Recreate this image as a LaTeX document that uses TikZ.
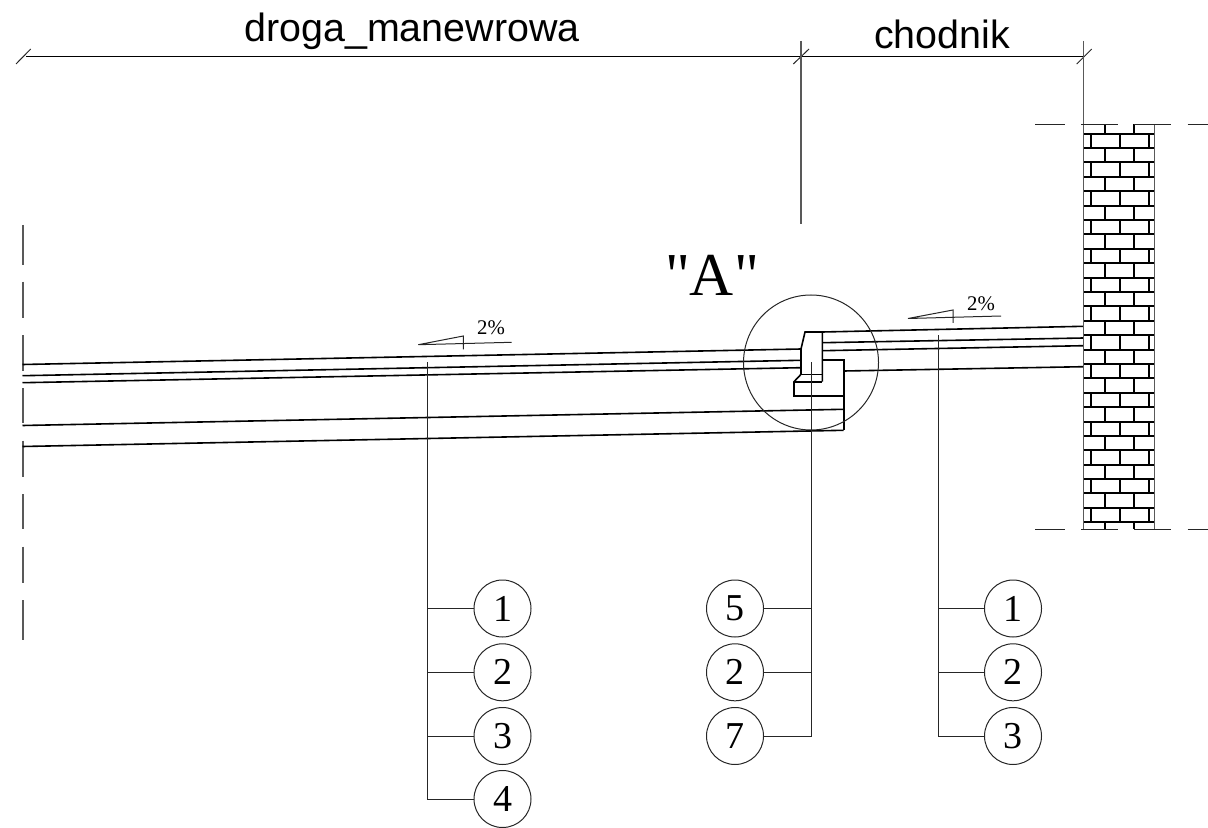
\documentclass[tikz,border=0pt]{standalone}
\usepackage{fontspec}
\setmainfont{Liberation Serif}
\newfontfamily\arialf{Liberation Sans}
\newfontfamily\rawserif{Liberation Serif}
\tikzset{
  thinln/.style={line width=0.5pt,black!85},
  thickln/.style={line width=0.8pt,black,line cap=butt},
  brickln/.style={line width=1pt,black},
  wallln/.style={line width=0.75pt,black!65},
  numc/.style={draw,circle,line width=0.5pt,black!85,minimum size=28.5pt,inner sep=0pt,font=\fontsize{19}{19}\selectfont,text=black},
  dimtext/.style={anchor=base,inner sep=0pt,font=\arialf\fontsize{19.7}{20}\selectfont},
  slopetext/.style={anchor=base,inner sep=0pt,font=\fontsize{10.4}{10.4}\selectfont},
  axisln/.style={line width=0.7pt,black!65}
}
\begin{document}
\begin{tikzpicture}[x=0.5pt,y=-0.5pt]
\useasboundingbox (0,0) rectangle (1208,828);
% dimension
\coordinate (dl) at (26,56.5);
\coordinate (dm) at (801,56.5);
\coordinate (dr) at (1083.5,56.5);
\draw[thinln,line width=0.6pt,black] (dl) -- (dm) -- (dr);
\draw[thinln] (16,64) -- (30.7,49);
\draw[thinln] (793.3,64) -- (809,49);
\draw[thinln] (1076.7,64) -- (1091.7,49);
\draw[wallln] (801,41) -- (801,224);
\draw[wallln] (1083.5,41) -- (1083.5,124);
\node[dimtext] (tdroga) at (412,41.2) {droga\_manewrowa};
\node[dimtext] (tchod) at (942,49) {chodnik};
% axis
\foreach \a/\b in {225/265,281.7/317.7,335/370.7,388/423,440.7/476.7,494/529.3,546.7/582.7,600/640}
  \draw[axisln] (23,\a) -- (23,\b);
% road layers
\draw[thickln] (22.5,364.5) -- (801,349);
\draw[thickln] (22.5,375.7) -- (801,360.3);
\draw[thickln] (22.5,382.7) -- (801,367.7);
\draw[thickln] (22.5,425.5) -- (843.7,409.3);
\draw[thickln] (22.5,446.5) -- (843.7,430.3);
% curb
\draw[thickln,line join=miter] (822.3,381.7) -- (822.3,332) -- (805,332) -- (801,349) -- (801,374.3) -- (794,381.7) -- (794,396) -- (843.7,396);
\draw[thickln] (801,374.3) -- (822.3,374.3);
\draw[thickln] (794,381.7) -- (822.3,381.7);
\draw[thickln] (822.3,360) -- (843.7,360) -- (843.7,430.3);
% pavement layers
\draw[thickln] (822.3,332) -- (1083.5,326.3);
\draw[thickln] (822.3,342.7) -- (1083.5,338);
\draw[thickln] (822.3,350.7) -- (1083.5,345.7);
\draw[thickln] (843.7,371) -- (1083.5,366.7);
% detail circle
\node[draw,circle,thinln,minimum size=67.5pt,inner sep=0pt] (det) at (811,362.5) {};
\node[anchor=base,inner sep=0pt,font=\rawserif\fontsize{30.5}{30.5}\selectfont] (ta) at (712,296) {"A"};
% wall
\foreach \k in {0,...,27}{
  \pgfmathsetmacro\yy{133.7+\k*14.39}
  \draw[brickln] (1083.5,\yy) -- (1154.5,\yy);
}
\foreach \k in {0,...,26}{
  \pgfmathsetmacro\ya{133.7+\k*14.39}
  \pgfmathsetmacro\yb{133.7+(\k+1)*14.39}
  \pgfmathparse{int(mod(\k,2))}
  \ifnum\pgfmathresult=0
    \draw[brickln] (1091,\ya) -- (1091,\yb) (1120,\ya) -- (1120,\yb) (1149,\ya) -- (1149,\yb);
  \else
    \draw[brickln] (1105.3,\ya) -- (1105.3,\yb) (1134.3,\ya) -- (1134.3,\yb);
  \fi
}
\draw[brickln] (1105.3,124.3) -- (1105.3,133.7) (1134.3,124.3) -- (1134.3,133.7);
\draw[brickln] (1105.3,522.3) -- (1105.3,529.3) (1134.3,522.3) -- (1134.3,529.3);
\draw[wallln] (1083.5,124.3) -- (1083.5,529.3) (1154.5,124.3) -- (1154.5,529.3);
\foreach \y in {124.3,529.3}
  \foreach \a/\b in {1035/1064.5,1081/1118,1134.3/1171,1187.5/1208}
    \draw[thinln,line width=0.6pt] (\a,\y) -- (\b,\y);
% slope marks
\draw[thinln] (463.3,349.3) -- (463.3,336) -- (418.3,344.7) -- (511.7,342.3);
\node[slopetext] (s1) at (491,335) {2\%};
\draw[thinln] (953,323) -- (953,310) -- (908,318.5) -- (1001,316);
\node[slopetext] (s2) at (981,310.5) {2\%};
% numbered circles
\node[numc] (a1) at (502.5,608.5) {1};
\node[numc] (a2) at (502.5,672.3) {2};
\node[numc] (a3) at (502.5,736) {3};
\node[numc] (a4) at (502.5,799) {4};
\node[numc] (b1) at (735,608.5) {5};
\node[numc] (b2) at (735,672.3) {2};
\node[numc] (b3) at (735,736) {7};
\node[numc] (c1) at (1013,608.5) {1};
\node[numc] (c2) at (1013,672.3) {2};
\node[numc] (c3) at (1013,736) {3};
% leaders
\coordinate (at) at (427,362);
\coordinate (bt) at (811,362);
\coordinate (ct) at (938.5,335);
\draw[thinln] (at) |- (a4.west);
\draw[thinln] (427,608.5) -- (a1.west);
\draw[thinln] (427,672.3) -- (a2.west);
\draw[thinln] (427,736) -- (a3.west);
\draw[thinln] (bt) |- (b3.east);
\draw[thinln] (811,608.5) -- (b1.east);
\draw[thinln] (811,672.3) -- (b2.east);
\draw[thinln] (ct) |- (c3.west);
\draw[thinln] (938.5,608.5) -- (c1.west);
\draw[thinln] (938.5,672.3) -- (c2.west);
\end{tikzpicture}
\end{document}
